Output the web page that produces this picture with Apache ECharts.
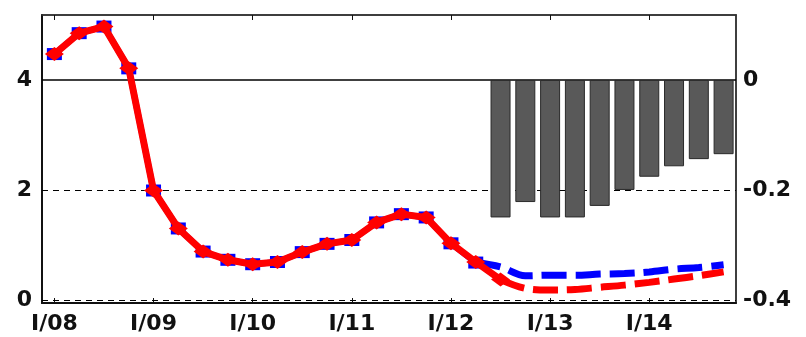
<!DOCTYPE html>
<html>
<head>
<meta charset="utf-8">
<script src="https://cdn.jsdelivr.net/npm/echarts@6/dist/echarts.min.js"></script>
<style>html,body{margin:0;padding:0;background:#fff}#c{width:806px;height:337px}</style>
</head>
<body>
<div id="c"></div>
<script>
const years = ['08','09','10','11','12','13','14'];
const quarterNames = ['I','II','III','IV'];
const leftTicks = [0, 2, 4];
const rightTicks = [-0.4, -0.2, 0];
// blue series (all quarters 2008Q1..2014Q4)
const blueValues = [4.47,4.85,4.97,4.21,1.99,1.30,0.88,0.73,0.65,0.69,0.87,1.02,1.09,1.41,1.56,1.50,1.03,0.68,
                    0.60,0.44,0.45,0.45,0.47,0.48,0.51,0.56,0.59,0.64];
const blueSplit = 17; // last solid point index
// red series
const redValues = [4.47,4.85,4.97,4.21,1.99,1.30,0.88,0.73,0.65,0.69,0.87,1.02,1.09,1.41,1.56,1.50,1.03,0.69,
                   0.37,0.21,0.18,0.19,0.23,0.27,0.32,0.38,0.44,0.51];
const redSplit = 18;
// bars (right axis), starting at 2012Q3
const barStart = 18;
const barValues = [-0.25,-0.222,-0.25,-0.25,-0.229,-0.2,-0.176,-0.157,-0.144,-0.135];

const categories = [];
years.forEach(y => quarterNames.forEach(q => categories.push(q + '/' + y)));
const n = categories.length;

function part(arr, from, to) {
  return arr.map((v, i) => (i >= from && i <= to) ? v : null);
}
const barData = categories.map((c, i) => (i >= barStart && i < barStart + barValues.length) ? barValues[i - barStart] : null);

const font = 'DejaVu Sans';
const chart = echarts.init(document.getElementById('c'), null, {renderer: 'canvas'});
chart.setOption({
  animation: false,
  grid: {left: 42, right: 70, top: 15, bottom: 34, containLabel: false, outerBoundsMode: 'none',
         show: true, borderColor: '#333', borderWidth: 1.5, backgroundColor: 'transparent'},
  xAxis: [{
    type: 'category', data: categories, boundaryGap: true, position: 'bottom',
    axisLine: {show: true, onZero: false, lineStyle: {color: '#111', width: 2}},
    axisTick: {show: true, inside: true, length: 5, alignWithLabel: true, interval: 3, lineStyle: {color: '#111', width: 1}},
    axisLabel: {interval: 3, fontFamily: font, fontWeight: 'bold', fontSize: 22, color: '#111', margin: 10},
    splitLine: {show: false}
  }, {
    type: 'category', data: categories, boundaryGap: true, position: 'top', show: true,
    axisLine: {show: true, onZero: false, lineStyle: {color: '#333', width: 1.5}},
    axisTick: {show: true, inside: true, length: 5, alignWithLabel: true, interval: 3, lineStyle: {color: '#111', width: 1}},
    axisLabel: {show: true, interval: 3, formatter: () => ''},
    splitLine: {show: false}
  }],
  yAxis: [{
    type: 'value', min: -0.055, max: 5.18, position: 'left',
    axisLine: {show: true, onZero: false, lineStyle: {color: '#111', width: 2}},
    axisTick: {show: false},
    axisLabel: {customValues: leftTicks, fontFamily: font, fontWeight: 'bold', fontSize: 22, color: '#111', margin: 10},
    splitLine: {show: false}
  }, {
    type: 'value', min: -0.4055, max: 0.118, position: 'right',
    axisLine: {show: true, onZero: false, lineStyle: {color: '#333', width: 1.5}},
    axisTick: {show: false},
    axisLabel: {customValues: rightTicks, fontFamily: font, fontWeight: 'bold', fontSize: 22, color: '#111', margin: 7,
      formatter: v => (Math.abs(v) < 1e-9 ? '0' : v.toFixed(1))},
    splitLine: {show: false}
  }],
  series: [{
    type: 'bar', xAxisIndex: 1, yAxisIndex: 1, data: barData, barWidth: 20, z: 2,
    itemStyle: {color: '#595959', borderColor: '#2a2a2a', borderWidth: 1}
  }, {
    type: 'line', data: part(blueValues, blueSplit, n - 1), smooth: 0.35, symbol: 'none', z: 3,
    lineStyle: {color: '#0000ff', width: 7, type: [25, 9]}
  }, {
    type: 'line', data: part(blueValues, 0, blueSplit), symbol: 'rect', symbolSize: [15, 12], z: 4,
    itemStyle: {color: '#0000ff'},
    lineStyle: {color: '#0000ff', width: 6},
    markLine: {
      z: 1, silent: true, symbol: 'none', label: {show: false}, animation: false,
      lineStyle: {color: '#000', width: 1, type: [6, 5]},
      data: [{yAxis: 0}, {yAxis: 2}, {yAxis: 4, lineStyle: {color: '#000', width: 1.5, type: 'solid'}}]
    }
  }, {
    type: 'line', data: part(redValues, redSplit, n - 1), smooth: 0.35, symbol: 'none', z: 5,
    lineStyle: {color: '#ff0000', width: 7, type: [25, 9]}
  }, {
    type: 'line', data: part(redValues, 0, redSplit), symbol: 'diamond', symbolSize: [19, 14], z: 6,
    itemStyle: {color: '#ff0000'},
    lineStyle: {color: '#ff0000', width: 7}
  }]
});
</script>
</body>
</html>
